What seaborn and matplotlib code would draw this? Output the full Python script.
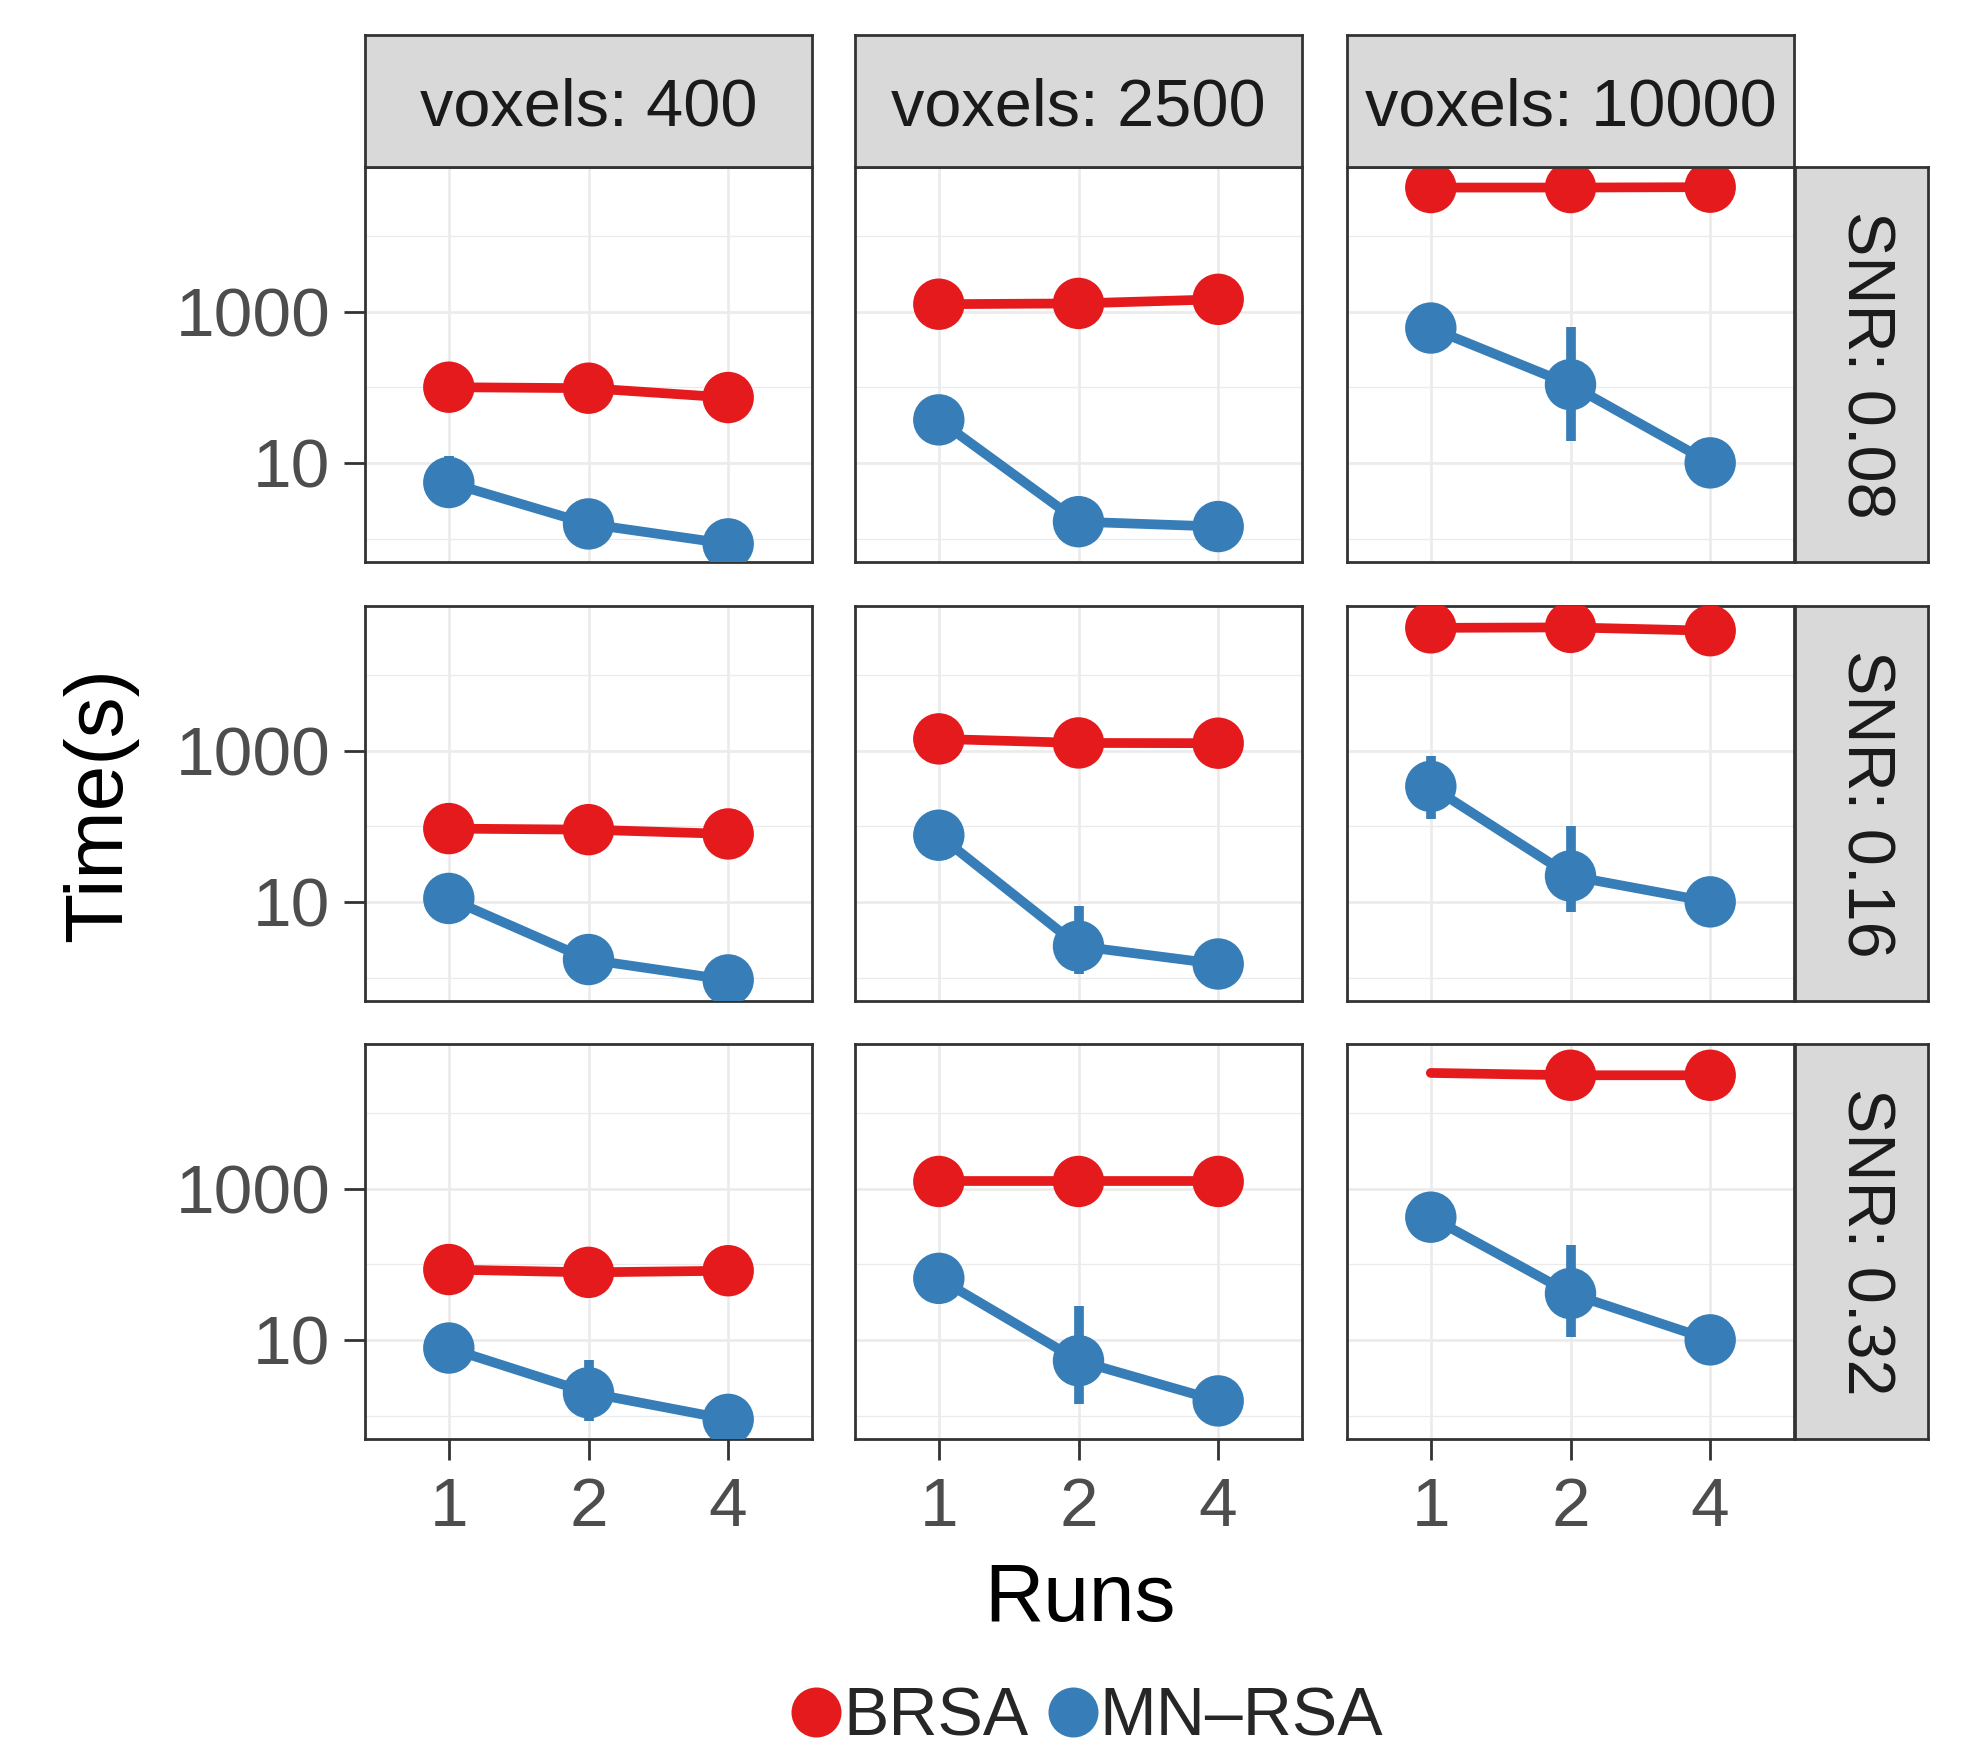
import numpy as np
import pandas as pd
import matplotlib
matplotlib.use("Agg")
import matplotlib.pyplot as plt
from matplotlib.lines import Line2D
from matplotlib.ticker import FixedLocator, NullFormatter
import seaborn as sns

# ===============================
# data
# ===============================
runs = [1, 2, 4]
voxels = [400, 2500, 10000]
snrs = [0.08, 0.16, 0.32]
methods = ["BRSA", "MN–RSA"]
colors = ["#E41A1C", "#377EB8"]

# time in seconds, indexed [snr][voxels][runs]
brsa_time = [
    [[100, 97, 73], [1250, 1280, 1450], [43500, 43500, 44000]],
    [[93, 90, 79], [1425, 1260, 1250], [41800, 42400, 38300]],
    [[85, 78, 82], [1240, 1240, 1240], [33700, 31400, 31400]],
]
# one BRSA point has no marker in the original
brsa_marker = [
    [[1, 1, 1], [1, 1, 1], [1, 1, 1]],
    [[1, 1, 1], [1, 1, 1], [1, 1, 1]],
    [[1, 1, 1], [1, 1, 1], [0, 1, 1]],
]
mnrsa_time = [
    [[5.5, 1.56, 0.85], [37, 1.67, 1.44], [605, 108, 10]],
    [[11.1, 1.73, 0.93], [76, 2.6, 1.51], [336, 22, 10]],
    [[7.8, 2.0, 0.89], [65, 5.3, 1.56], [418, 41, 10]],
]
nan = np.nan
mnrsa_lo = [
    [[3.0, 1.1, nan], [nan, nan, nan], [nan, 19.6, nan]],
    [[nan, nan, nan], [nan, 1.1, nan], [126, 7.4, nan]],
    [[nan, 0.85, nan], [nan, 1.4, nan], [nan, 10.9, nan]],
]
mnrsa_hi = [
    [[12.5, 2.3, nan], [nan, nan, nan], [nan, 620, nan]],
    [[nan, nan, nan], [nan, 8.9, nan], [834, 100, nan]],
    [[nan, 5.5, nan], [nan, 28.4, nan], [nan, 182, nan]],
]

rows = []
for i, snr in enumerate(snrs):
    for j, vox in enumerate(voxels):
        for k, run in enumerate(runs):
            rows.append(dict(snr=snr, voxels=vox, runs=run, pos=k, method=methods[0],
                             time=brsa_time[i][j][k], lo=nan, hi=nan,
                             shown=bool(brsa_marker[i][j][k])))
            rows.append(dict(snr=snr, voxels=vox, runs=run, pos=k, method=methods[1],
                             time=mnrsa_time[i][j][k], lo=mnrsa_lo[i][j][k],
                             hi=mnrsa_hi[i][j][k], shown=True))
df = pd.DataFrame(rows)
palette = dict(zip(methods, colors))

# ===============================
# layout
# ===============================
sns.set_style("white")
plt.rcParams["font.family"] = ["Liberation Sans", "DejaVu Sans"]

W, H = 1972, 1761
fig = plt.figure(figsize=(W / 100, H / 100), dpi=100)

col_x = [365, 855, 1347]
row_y = [167, 606, 1044]
pw, ph = 447, 395
strip_top, strip_h = 35, 132
rstrip_x, rstrip_w = 1795, 133


def box(x0, y0, w, h):
    return [x0 / W, 1 - (y0 + h) / H, w / W, h / H]


def strip(x0, y0, w, h, label, rot, tx, ty):
    sax = fig.add_axes(box(x0, y0, w, h))
    sax.set_facecolor("#D9D9D9")
    sax.set_xticks([])
    sax.set_yticks([])
    for sp in sax.spines.values():
        sp.set_color("#333333")
        sp.set_linewidth(2)
    sax.text(tx, ty, label, rotation=rot, ha="center", va="center",
             fontsize=48, color="#1A1A1A", transform=sax.transAxes)


for i, snr in enumerate(snrs):
    for j, vox in enumerate(voxels):
        ax = fig.add_axes(box(col_x[j], row_y[i], pw, ph))
        ax.set_yscale("log")
        sub = df[(df.snr == snr) & (df.voxels == vox)]

        sns.lineplot(data=sub, x="pos", y="time", hue="method", hue_order=methods,
                     palette=palette, estimator=None, errorbar=None, lw=7,
                     legend=False, ax=ax)
        err = sub.dropna(subset=["lo"])
        for _, r in err.iterrows():
            ax.vlines(r.pos, r.lo, r.hi, color=palette[r.method], lw=7, zorder=3)
        sns.scatterplot(data=sub[sub.shown], x="pos", y="time", hue="method",
                        hue_order=methods, palette=palette, s=1370, linewidth=0,
                        legend=False, ax=ax, zorder=4)

        ax.set_xlim(-0.6, 2.6)
        ax.set_ylim(10 ** -0.31, 10 ** 4.91)
        ax.set_xticks(range(len(runs)))
        ax.set_xticklabels([str(r) for r in runs])
        ax.yaxis.set_major_locator(FixedLocator([10, 1000]))
        ax.yaxis.set_minor_locator(FixedLocator([1, 100, 10000]))
        ax.yaxis.set_major_formatter(plt.FuncFormatter(lambda v, p: f"{v:g}"))
        ax.yaxis.set_minor_formatter(NullFormatter())
        ax.set_axisbelow(True)
        ax.grid(True, which="major", color="#EBEBEB", lw=1.9)
        ax.grid(True, which="minor", axis="y", color="#EBEBEB", lw=0.9)
        ax.set_xlabel("")
        ax.set_ylabel("")
        for sp in ax.spines.values():
            sp.set_color("#333333")
            sp.set_linewidth(2)

        ax.tick_params(which="minor", length=0)
        ax.tick_params(axis="y", which="major", left=(j == 0), labelleft=(j == 0),
                       length=15, width=2, color="#333333", labelsize=50,
                       labelcolor="#4D4D4D", pad=10)
        ax.tick_params(axis="x", which="major", bottom=(i == 2), labelbottom=(i == 2),
                       length=15, width=2, color="#333333", labelsize=50,
                       labelcolor="#4D4D4D", pad=12)

        if i == 0:
            strip(col_x[j], strip_top, pw, strip_h, f"voxels: {vox}", 0, 0.5, 0.44)
    strip(rstrip_x, row_y[i], rstrip_w, ph, f"SNR: {snr}", -90, 0.52, 0.5)

# axis titles
fig.text(100 / W, 1 - 805 / H, "Time(s)", rotation=90, ha="center", va="center",
         fontsize=59, color="black")
fig.text(1080 / W, 1 - 1600 / H, "Runs", ha="center", va="center",
         fontsize=59, color="black")

# legend
handles = [Line2D([], [], ls="", marker="o", markersize=36, color=c,
                  markeredgewidth=0) for c in colors]
fig.legend(handles, methods, loc="center", bbox_to_anchor=(1086 / W, 1 - 1718 / H),
           ncol=2, frameon=False, fontsize=49, handletextpad=0.0,
           columnspacing=0.25, handlelength=0.8)

fig.savefig("out.png", dpi=100)
